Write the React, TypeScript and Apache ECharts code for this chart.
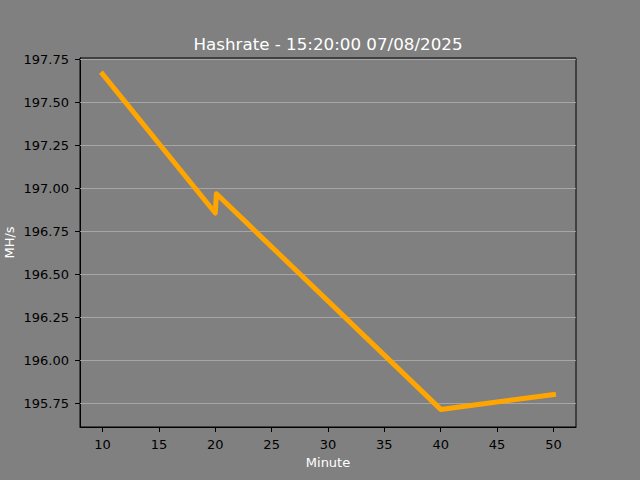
import React, { useEffect, useRef } from "react";
import * as echarts from "echarts";

const titleText = "Hashrate - 15:20:00 07/08/2025";
const minutes = [10, 20, 20.1, 40, 50];
const hashrate = [197.664, 196.856, 196.968, 195.714, 195.8];
const xTicks = [10, 15, 20, 25, 30, 35, 40, 45, 50];
const yTicks = [195.75, 196.0, 196.25, 196.5, 196.75, 197.0, 197.25, 197.5, 197.75];

export default function App() {
  const ref = useRef<HTMLDivElement>(null);
  useEffect(() => {
    const chart = echarts.init(ref.current!, undefined, { renderer: "svg" });
    const font = "DejaVu Sans";
    chart.setOption({
      animation: false,
      backgroundColor: "#808080",
      textStyle: { fontFamily: font },
      title: {
        text: titleText,
        left: 323,
        textAlign: "center",
        top: 30,
        textStyle: { color: "#ffffff", fontSize: 16.7, fontWeight: "normal", fontFamily: font },
      },
      grid: {
        left: 80,
        right: 64,
        top: 58,
        bottom: 53,
        show: true,
        borderColor: "#000000",
        borderWidth: 1,
        backgroundColor: "transparent",
        containLabel: false,
        outerBoundsMode: "none",
      },
      xAxis: {
        type: "value",
        min: 8,
        max: 52,
        name: "Minute",
        nameLocation: "middle",
        nameGap: 29,
        nameMoveOverlap: false,
        nameTextStyle: { color: "#ffffff", fontSize: 13, fontFamily: font },
        axisLine: { show: true, onZero: false, lineStyle: { color: "#000000", width: 1 } },
        axisTick: { show: true, length: 5, customValues: xTicks, lineStyle: { color: "#000000" } },
        axisLabel: { customValues: xTicks, color: "#000000", fontSize: 13, margin: 11, fontFamily: font },
        splitLine: { show: false },
      },
      yAxis: {
        type: "value",
        min: 195.6117,
        max: 197.7575,
        name: "MH/s",
        nameLocation: "middle",
        nameGap: 64,
        nameRotate: 90,
        nameMoveOverlap: false,
        nameTextStyle: { color: "#ffffff", fontSize: 13, fontFamily: font },
        axisLine: { show: true, onZero: false, lineStyle: { color: "#000000", width: 1 } },
        axisTick: { show: true, length: 5, customValues: yTicks, lineStyle: { color: "#000000" } },
        axisLabel: {
          customValues: yTicks,
          color: "#000000",
          fontSize: 13,
          margin: 11,
          fontFamily: font,
          formatter: (v: number) => v.toFixed(2),
        },
        splitLine: { show: false },
      },
      series: [
        {
          type: "line",
          data: minutes.map((m, i) => [m, hashrate[i]]),
          showSymbol: false,
          symbol: "none",
          lineStyle: { color: "#ffa500", width: 5, cap: "square", join: "round" },
          markLine: {
            silent: true,
            symbol: "none",
            label: { show: false },
            lineStyle: { color: "#b0b0b0", width: 0.8, type: "solid" },
            z: 1,
            data: yTicks.map((v) => ({ yAxis: v })),
          },
          z: 3,
        },
      ],
    });
    return () => chart.dispose();
  }, []);
  return <div ref={ref} style={{ width: 640, height: 480, position: "absolute", left: 0, top: 0 }} />;
}
